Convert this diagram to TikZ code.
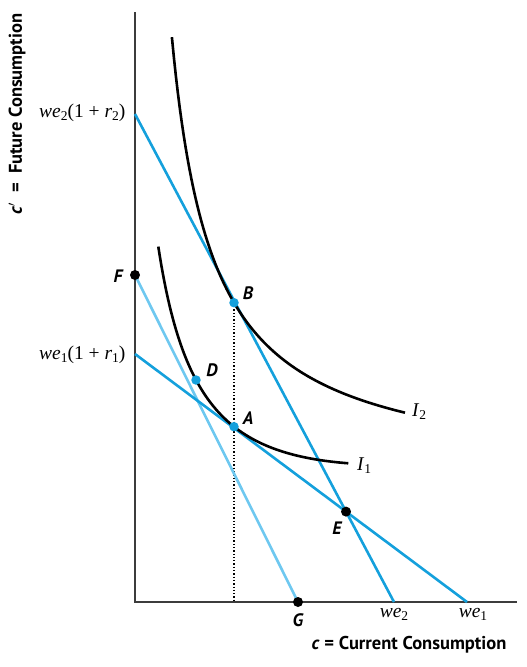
\documentclass[tikz,border=0pt]{standalone}
\usepackage{fontspec}
\setsansfont{PT Sans}
\newfontfamily\tms{Liberation Serif}
\usetikzlibrary{calc}
\definecolor{bl}{RGB}{20,160,220}
\definecolor{lbl}{RGB}{110,200,240}
\definecolor{axc}{RGB}{60,60,60}
\newcommand{\sbs}[1]{\raisebox{-0.35ex}{\fontsize{13.5}{13.5}\selectfont #1}}
\begin{document}
\begin{tikzpicture}[x=1pt,y=-1pt,
  axis/.style={axc,line width=1.1pt},
  budget/.style={bl,line width=2.6pt},
  lbudget/.style={lbl,line width=2.6pt},
  indiff/.style={black,line width=2.6pt},
  bdot/.style={circle,fill=bl,inner sep=0pt,minimum size=9.5pt},
  kdot/.style={circle,fill=black,inner sep=0pt,minimum size=10pt},
  ptlab/.style={font=\sffamily\bfseries\itshape\fontsize{18}{18}\selectfont},
  mathlab/.style={font=\tms\fontsize{19.5}{19.5}\selectfont},
  axlab/.style={font=\sffamily\bfseries\fontsize{18.5}{19}\selectfont}]
\useasboundingbox (0,0) rectangle (527,667);
% axes
\coordinate (O) at (135,602);
\coordinate (Ytop) at (135,12);
\coordinate (Xend) at (517,602);
\draw[axis] (Ytop) -- (O) -- (Xend);
% intercepts
\coordinate (Y2) at (135,114);
\coordinate (X2) at (394,602);
\coordinate (Y1) at (135,354);
\coordinate (X1) at (467,602);
\coordinate (F) at (135,275);
\coordinate (G) at (298,602);
\coordinate (B) at (234,302.7);
\coordinate (A) at (234,426.7);
\coordinate (D) at (196,380);
\coordinate (E) at (intersection of Y2--X2 and Y1--X1);
% dotted line
\draw[black,dotted,line width=1.3pt] (B) -- (B |- O);
% budget lines
\draw[lbudget] (F) -- (G);
\draw[budget] (Y2) -- (X2);
\draw[budget] (Y1) -- (X1);
% indifference curves
\draw[indiff] plot[domain=171.9:405,samples=120] (\x,{479.2-182.45/((\x-130.6)*0.01)});
\draw[indiff] plot[domain=158.3:348.3,samples=120] (\x,{587.44-0.1808*\x-144.48/((\x-112)*0.01)});
% dots
\node[bdot] (nB) at (B) {};
\node[bdot] (nA) at (A) {};
\node[bdot] (nD) at (D) {};
\node[kdot] (nE) at (E) {};
\node[kdot] (nF) at (F) {};
\node[kdot] (nG) at (G) {};
% point labels
\node[ptlab] (lB) at (248,293) {B};
\node[ptlab] (lA) at (248,418) {A};
\node[ptlab] (lD) at (212,370) {D};
\node[ptlab] (lE) at (337,528) {E};
\node[ptlab] (lF) at (118,276) {F};
\node[ptlab] (lG) at (298,620) {G};
% curve labels
\node[mathlab] (lI2) at (419,412) {\textit{I}\sbs{2}};
\node[mathlab] (lI1) at (364,466) {\textit{I}\sbs{1}};
% axis value labels
\node[mathlab,anchor=east] (ly2) at (129,113) {\textit{we}\sbs{2}(1 + \textit{r}\sbs{2})};
\node[mathlab,anchor=east] (ly1) at (129,355) {\textit{we}\sbs{1}(1 + \textit{r}\sbs{1})};
\node[mathlab] (lx2) at (394,614) {\textit{we}\sbs{2}};
\node[mathlab] (lx1) at (473,614) {\textit{we}\sbs{1}};
% axis titles
\node[axlab] (xt) at (409,645) {\textit{c} = Current Consumption};
\node[axlab,rotate=90] (yt) at (17,114) {\textit{c}$'$\ \ =\ \ Future Consumption};
\end{tikzpicture}
\end{document}
